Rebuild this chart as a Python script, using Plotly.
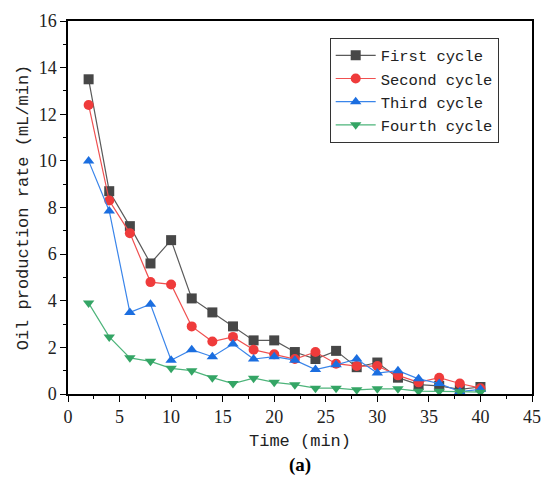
import plotly.graph_objects as go

time_min = [2, 4, 6, 8, 10, 12, 14, 16, 18, 20, 22, 24, 26, 28, 30, 32, 34, 36, 38, 40]

first_cycle = [13.5, 8.7, 7.2, 5.6, 6.6, 4.1, 3.5, 2.9, 2.3, 2.3, 1.8, 1.5, 1.85, 1.15, 1.35, 0.7, 0.4, 0.35, 0.2, 0.3]
second_cycle = [12.4, 8.3, 6.9, 4.8, 4.7, 2.9, 2.25, 2.45, 1.9, 1.7, 1.5, 1.8, 1.3, 1.2, 1.2, 0.8, 0.5, 0.7, 0.45, 0.25]
third_cycle = [10.0, 7.85, 3.5, 3.85, 1.45, 1.9, 1.6, 2.15, 1.5, 1.6, 1.45, 1.05, 1.25, 1.5, 0.9, 1.0, 0.65, 0.45, 0.1, 0.2]
fourth_cycle = [3.9, 2.45, 1.55, 1.4, 1.1, 1.0, 0.7, 0.45, 0.68, 0.5, 0.4, 0.25, 0.25, 0.18, 0.22, 0.22, 0.12, 0.12, 0.1, 0.08]

series = [
    ("First cycle", first_cycle, "#474747", "#5a5a5a", "square"),
    ("Second cycle", second_cycle, "#ef3b3b", "#f05050", "circle"),
    ("Third cycle", third_cycle, "#1b6ee0", "#3a85ea", "triangle-up"),
    ("Fourth cycle", fourth_cycle, "#34a565", "#4db47a", "triangle-down"),
]

x_ticks = [0, 5, 10, 15, 20, 25, 30, 35, 40, 45]
y_ticks = [0, 2, 4, 6, 8, 10, 12, 14, 16]

MONO = "Liberation Mono, DejaVu Sans Mono, monospace"
SERIF = "Liberation Serif, DejaVu Serif, serif"

fig = go.Figure()
for name, vals, mcol, lcol, sym in series:
    fig.add_trace(go.Scatter(
        x=time_min, y=vals, name=name, mode="lines+markers",
        line=dict(color=lcol, width=1.2),
        marker=dict(symbol=sym, size=10, color=mcol, line=dict(width=0)),
    ))

axis_common = dict(
    showline=True, linecolor="black", linewidth=1.5, mirror=True,
    showgrid=False, zeroline=False,
    ticks="outside", ticklen=6, tickwidth=1.2, tickcolor="black",
    tickfont=dict(family=SERIF, size=18, color="#222"),
)

fig.update_xaxes(
    range=[0, 45], tickvals=x_ticks,
    minor=dict(dtick=2.5, ticks="outside", ticklen=3, tickcolor="black", tickwidth=1),
    title=dict(text="Time (min)", font=dict(family=MONO, size=17, color="#222"), standoff=8),
    **axis_common,
)
fig.update_yaxes(
    range=[0, 16], tickvals=y_ticks,
    minor=dict(dtick=1, ticks="outside", ticklen=3, tickcolor="black", tickwidth=1),
    title=dict(text="Oil production rate (mL/min)", font=dict(family=MONO, size=17, color="#222"), standoff=6),
    **axis_common,
)

fig.add_annotation(
    text="<b>(a)</b>", xref="paper", yref="paper", x=0.5, y=-0.19,
    showarrow=False, font=dict(family=SERIF, size=19, color="black"),
    xanchor="center", yanchor="middle",
)

fig.update_layout(
    width=552, height=486,
    margin=dict(l=68, r=11, t=16, b=92),
    plot_bgcolor="white", paper_bgcolor="white",
    legend=dict(
        x=0.564, y=0.955, xanchor="left", yanchor="top",
        bgcolor="white", bordercolor="#333", borderwidth=1,
        font=dict(family=MONO, size=15.5, color="#222"),
        tracegroupgap=0, itemwidth=40,
    ),
)

fig.write_html("out.html")
